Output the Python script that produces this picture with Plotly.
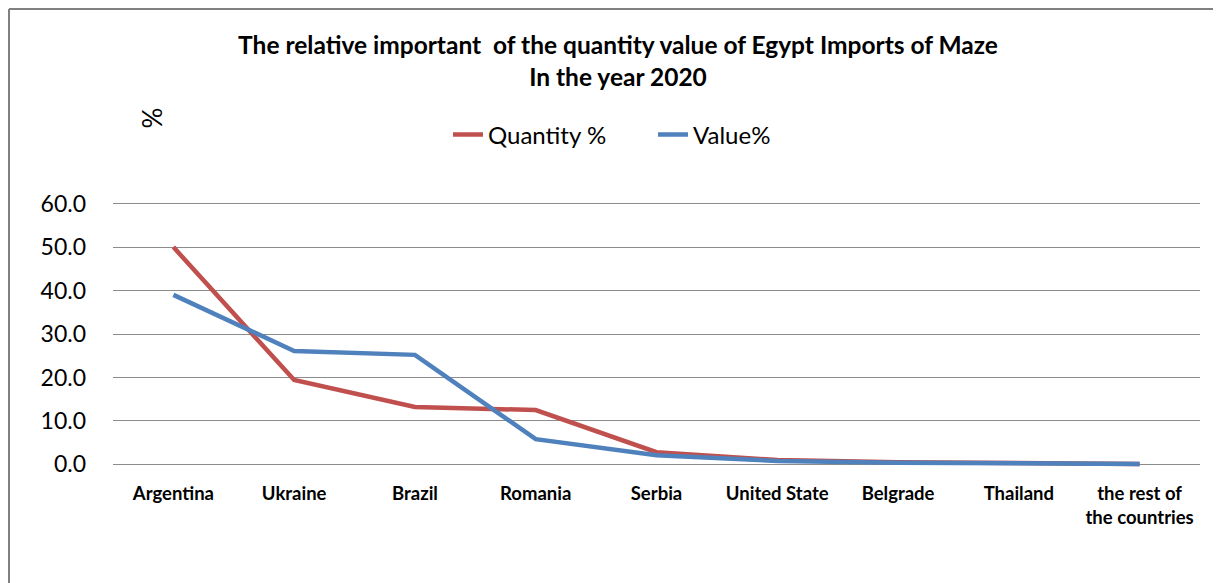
import plotly.graph_objects as go

categories = ["Argentina", "Ukraine", "Brazil", "Romania", "Serbia",
              "United State", "Belgrade", "Thailand", "the rest of<br>the countries"]
quantity_pct = [50.0, 19.4, 13.2, 12.5, 2.8, 1.0, 0.5, 0.2, 0.1]
value_pct = [39.0, 26.1, 25.2, 5.8, 2.1, 0.8, 0.4, 0.2, 0.1]
y_ticks = [0, 10, 20, 30, 40, 50, 60]

OFF = 8  # page body margin
W, H = 1221 - OFF, 583 - OFF
YMIN, YMAX, PAD = 0.0, 60.0, 0.6
# target plot area in screen pixels (for YMIN..YMAX)
SL, SR, ST, SB = 113, 1200, 204, 464
ppu = (SB - ST) / (YMAX - YMIN)
L = SL - OFF
R = W - (SR - OFF)
T = int(round(ST - PAD * ppu)) - OFF
B = H - (int(round(SB + PAD * ppu)) - OFF)
pw, ph = W - L - R, H - T - B

def px(x):  # screen x -> paper
    return (x - OFF - L) / pw

def py(y):  # screen y -> paper
    return (H - B - (y - OFF)) / ph

fig = go.Figure()
fig.add_trace(go.Scatter(x=categories, y=quantity_pct, mode="lines", name="Quantity %",
                         line=dict(color="#C0504D", width=4.5)))
fig.add_trace(go.Scatter(x=categories, y=value_pct, mode="lines", name="Value%",
                         line=dict(color="#4F81BD", width=4.5)))

font = "Lato, 'Open Sans', sans-serif"
fig.update_layout(
    width=W, height=H,
    margin=dict(l=L, r=R, t=T, b=B),
    paper_bgcolor="white", plot_bgcolor="white",
    font=dict(family=font, color="black"),
    title=dict(text="<b>The relative important  of the quantity value of Egypt Imports of Maze<br>In the year 2020</b>",
               x=(618 - OFF) / W, xanchor="center", y=1 - (54 - OFF) / H, yanchor="top",
               font=dict(size=24.5, family=font)),
    legend=dict(orientation="h", x=px(653), xanchor="center", y=py(135), yanchor="middle",
                xref="paper", yref="paper", entrywidth=160, entrywidthmode="pixels",
                font=dict(size=24, family=font)),
    showlegend=True,
    xaxis=dict(type="category", range=[-0.5, 8.5], showgrid=False, showline=False,
               ticks="", tickfont=dict(size=18.5, family=font), ticklabelstandoff=13),
    yaxis=dict(range=[YMIN - PAD, YMAX + PAD], tickvals=y_ticks,
               ticktext=[f"{v:.1f}" for v in y_ticks],
               showgrid=True, gridcolor="#8c8c8c", gridwidth=1, zeroline=False,
               showline=False, ticks="", tickfont=dict(size=23, family=font),
               ticklabelstandoff=26 - int(PAD * ppu) + 2),
)

fig.update_xaxes(tickvals=categories, ticktext=[f"<b>{c}</b>" for c in categories])

fig.add_annotation(text="%", x=px(134), y=py(106), xref="paper", yref="paper",
                   showarrow=False, textangle=-90, font=dict(size=26, family=font))

# frame border
fig.add_shape(type="line", xref="paper", yref="paper",
              x0=px(9), x1=px(9), y0=py(9), y1=py(600),
              line=dict(color="#808080", width=2))
fig.add_shape(type="line", xref="paper", yref="paper",
              x0=px(9), x1=px(1240), y0=py(9), y1=py(9),
              line=dict(color="#808080", width=2))

fig.write_html("out.html")
